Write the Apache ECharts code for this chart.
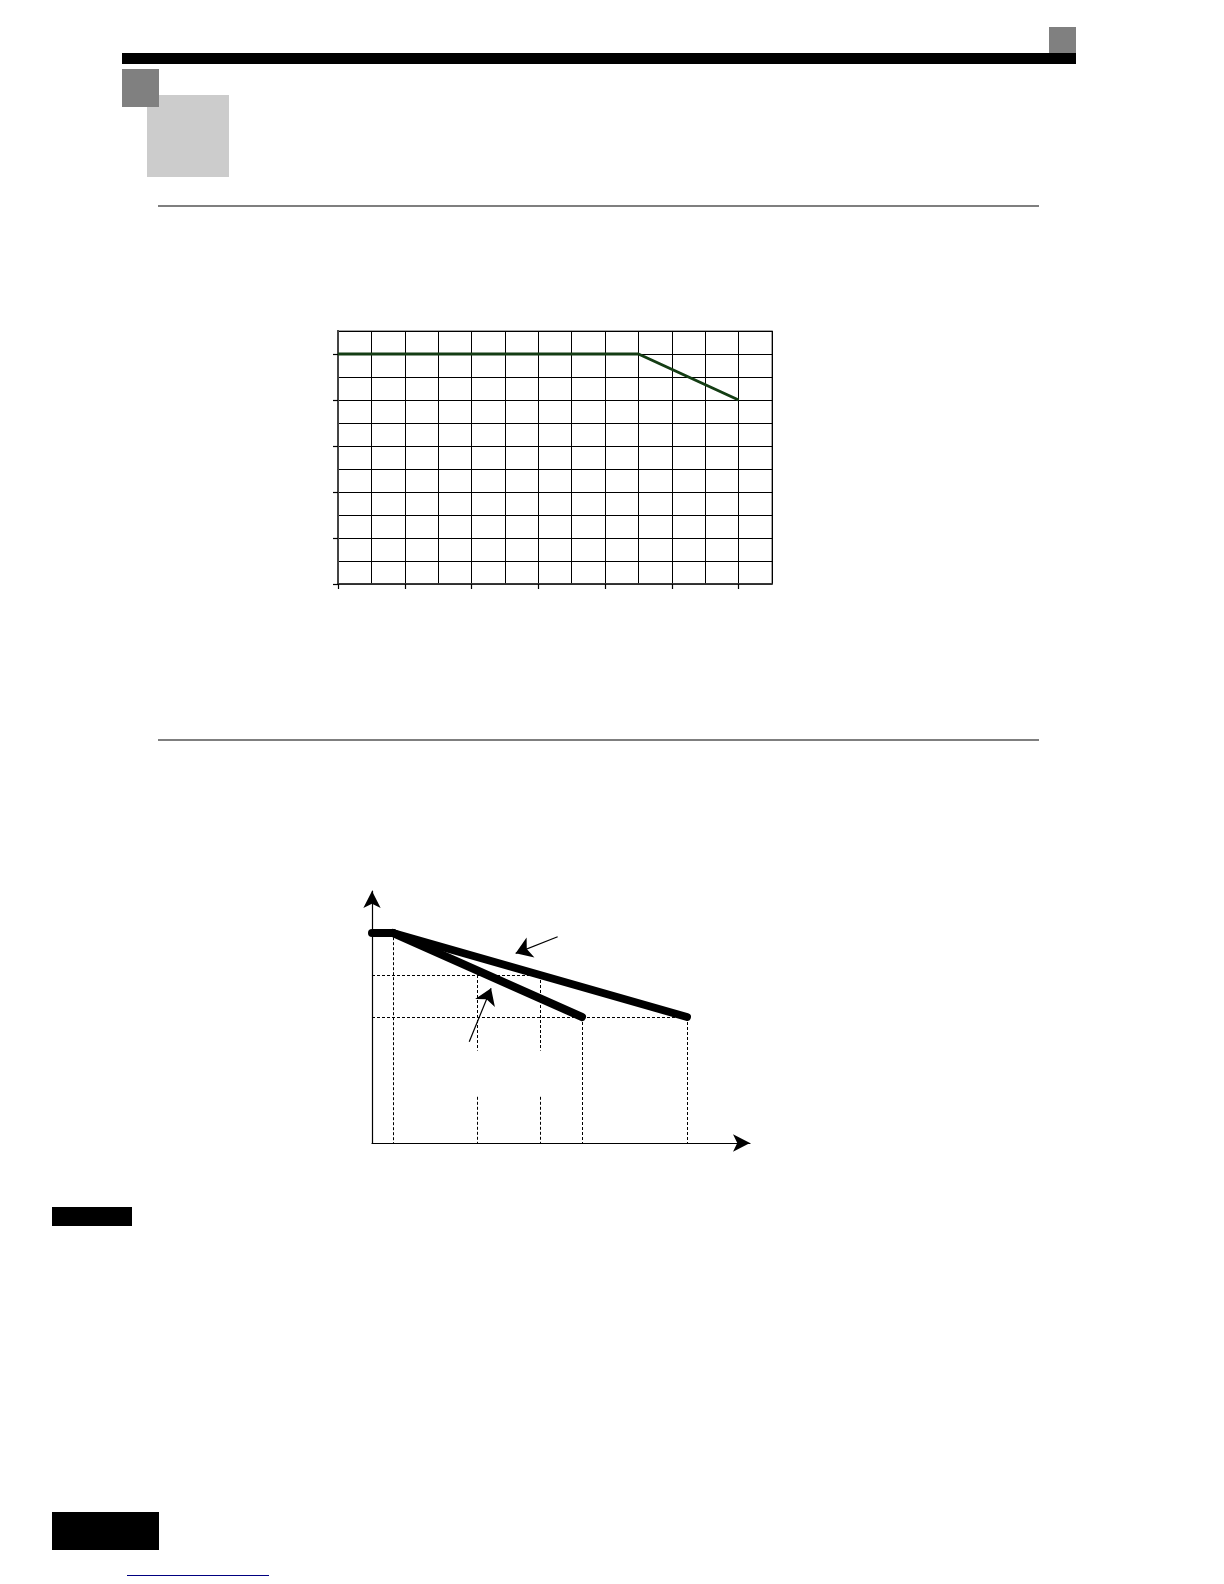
<!DOCTYPE html>
<html>
<head>
<meta charset="utf-8">
<script src="https://cdn.jsdelivr.net/npm/echarts@6/dist/echarts.min.js"></script>
<style>
  html, body { margin: 0; padding: 0; background: #fff; }
  #main { width: 1224px; height: 1584px; }
</style>
</head>
<body>
<div id="main"></div>
<script>
// 图1：降额曲线（方格图）
var deratingX = [0, 9, 12];
var deratingY = [100, 100, 80];
// 刻度位置（每两格一个刻度）
var grid1XSteps = [0, 1, 2, 3, 4, 5, 6, 7, 8, 9, 10, 11, 12, 13];
var grid1YSteps = [0, 10, 20, 30, 40, 50, 60, 70, 80, 90, 100, 110];

// 图2：两条下降特性线
var flatX = [0, 1];
var flatY = [10, 10];
var lineAX = [1, 15];
var lineAY = [10, 6];
var lineBX = [1, 10];
var lineBY = [10, 6];
// 虚线辅助线 [x1, y1, x2, y2]
var guideLines = [
  [1, 9.8, 1, 0],
  [0, 8, 8, 8],
  [0, 6, 15, 6],
  [5, 8, 5, 4.4], [5, 2.2, 5, 0],
  [8, 8, 8, 4.4], [8, 2.2, 8, 0],
  [10, 6, 10, 0],
  [15, 6, 15, 0]
];
// 指示箭头 [尾x, 尾y, 头x, 头y]
var pointerArrows = [
  [8.84, 9.82, 6.84, 9.03],
  [4.63, 4.82, 5.67, 7.37]
];

function zip(xs, ys) {
  return xs.map(function (x, i) { return [x, ys[i]]; });
}

var myChart = echarts.init(document.getElementById('main'), null, { renderer: 'canvas' });

// 页面装饰（页眉条、灰色方块、分隔线、页脚块）
var deco = [
  { type: 'rect', shape: { x: 122, y: 53, width: 954, height: 11 }, style: { fill: '#000' } },
  { type: 'rect', shape: { x: 1049, y: 27, width: 27, height: 26 }, style: { fill: '#808080' } },
  { type: 'rect', shape: { x: 147, y: 95, width: 82, height: 82 }, style: { fill: '#cccccc' } },
  { type: 'rect', shape: { x: 122, y: 69, width: 37, height: 38 }, style: { fill: '#808080' } },
  { type: 'line', shape: { x1: 158, y1: 206, x2: 1039, y2: 206 }, style: { stroke: '#000', lineWidth: 1.2 } },
  { type: 'line', shape: { x1: 158, y1: 740, x2: 1039, y2: 740 }, style: { stroke: '#000', lineWidth: 1.2 } },
  { type: 'rect', shape: { x: 52, y: 1207, width: 80, height: 19 }, style: { fill: '#000' } },
  { type: 'rect', shape: { x: 52, y: 1512, width: 107, height: 38 }, style: { fill: '#000' } },
  { type: 'line', shape: { x1: 127, y1: 1575.5, x2: 269, y2: 1575.5 }, style: { stroke: '#000080', lineWidth: 1 } }
];

var hidden = { show: false };

var option = {
  animation: false,
  backgroundColor: '#fff',
  graphic: { elements: deco },
  grid: [
    { left: 338, top: 331, width: 434, height: 253, show: true,
      borderColor: '#888', borderWidth: 1.5, backgroundColor: 'transparent' },
    { left: 372, top: 891, width: 378, height: 252 }
  ],
  xAxis: [
    { type: 'value', gridIndex: 0, position: 'bottom', min: 0, max: 13, interval: 1,
      axisLine: { show: true, lineStyle: { color: '#333', width: 1.5 } },
      axisTick: hidden, axisLabel: hidden,
      splitLine: { show: true, lineStyle: { color: '#000', width: 1 } } },
    { type: 'category', gridIndex: 0, position: 'bottom', offset: 0,
      data: grid1XSteps, boundaryGap: false,
      axisLine: { show: true, lineStyle: { color: '#333', width: 1.5 } },
      axisTick: { show: true, interval: 1, length: 5, lineStyle: { color: '#000', width: 1.2 } },
      axisLabel: { show: false, interval: 1 }, splitLine: hidden },
    { type: 'value', gridIndex: 1, min: 0, max: 18,
      axisLine: { show: true, symbol: ['none', 'arrow'], symbolSize: [13, 17],
        lineStyle: { color: '#000', width: 1.2 } },
      axisTick: hidden, axisLabel: hidden, splitLine: hidden }
  ],
  yAxis: [
    { type: 'value', gridIndex: 0, position: 'left', min: 0, max: 110, interval: 10,
      axisLine: { show: true, lineStyle: { color: '#444', width: 2 } },
      axisTick: hidden, axisLabel: hidden,
      splitLine: { show: true, lineStyle: { color: '#000', width: 1 } } },
    { type: 'category', gridIndex: 0, position: 'left', offset: 0,
      data: grid1YSteps, boundaryGap: false,
      axisLine: { show: true, lineStyle: { color: '#444', width: 2 } },
      axisTick: { show: true, interval: 1, length: 5, lineStyle: { color: '#000', width: 1.2 } },
      axisLabel: { show: false, interval: 1 }, splitLine: hidden },
    { type: 'value', gridIndex: 1, min: 0, max: 12,
      axisLine: { show: true, symbol: ['none', 'arrow'], symbolSize: [13, 17],
        lineStyle: { color: '#000', width: 1.2 } },
      axisTick: hidden, axisLabel: hidden, splitLine: hidden }
  ],
  series: [
    { type: 'line', xAxisIndex: 0, yAxisIndex: 0, data: zip(deratingX, deratingY),
      showSymbol: false, lineStyle: { color: '#143d14', width: 3 }, z: 5 },
    { type: 'lines', coordinateSystem: 'cartesian2d', xAxisIndex: 2, yAxisIndex: 2,
      data: guideLines.map(function (g) { return { coords: [[g[0], g[1]], [g[2], g[3]]] }; }),
      lineStyle: { color: '#000', width: 1, type: [3, 2], opacity: 1 }, z: 2 },
    { type: 'line', xAxisIndex: 2, yAxisIndex: 2, data: zip(lineAX, lineAY),
      showSymbol: false, lineStyle: { color: '#000', width: 8, cap: 'round', join: 'round' }, z: 4 },
    { type: 'line', xAxisIndex: 2, yAxisIndex: 2, data: zip(lineBX, lineBY),
      showSymbol: false, lineStyle: { color: '#000', width: 8, cap: 'round', join: 'round' }, z: 4 },
    { type: 'line', xAxisIndex: 2, yAxisIndex: 2, data: zip(flatX, flatY),
      showSymbol: false, lineStyle: { color: '#000', width: 8, cap: 'round', join: 'round' }, z: 4 },
    { type: 'lines', coordinateSystem: 'cartesian2d', xAxisIndex: 2, yAxisIndex: 2,
      symbol: ['none', 'arrow'], symbolSize: 16,
      data: pointerArrows.map(function (a) { return { coords: [[a[0], a[1]], [a[2], a[3]]] }; }),
      lineStyle: { color: '#000', width: 1.2, opacity: 1 }, z: 6 }
  ]
};

myChart.setOption(option);
</script>
</body>
</html>
